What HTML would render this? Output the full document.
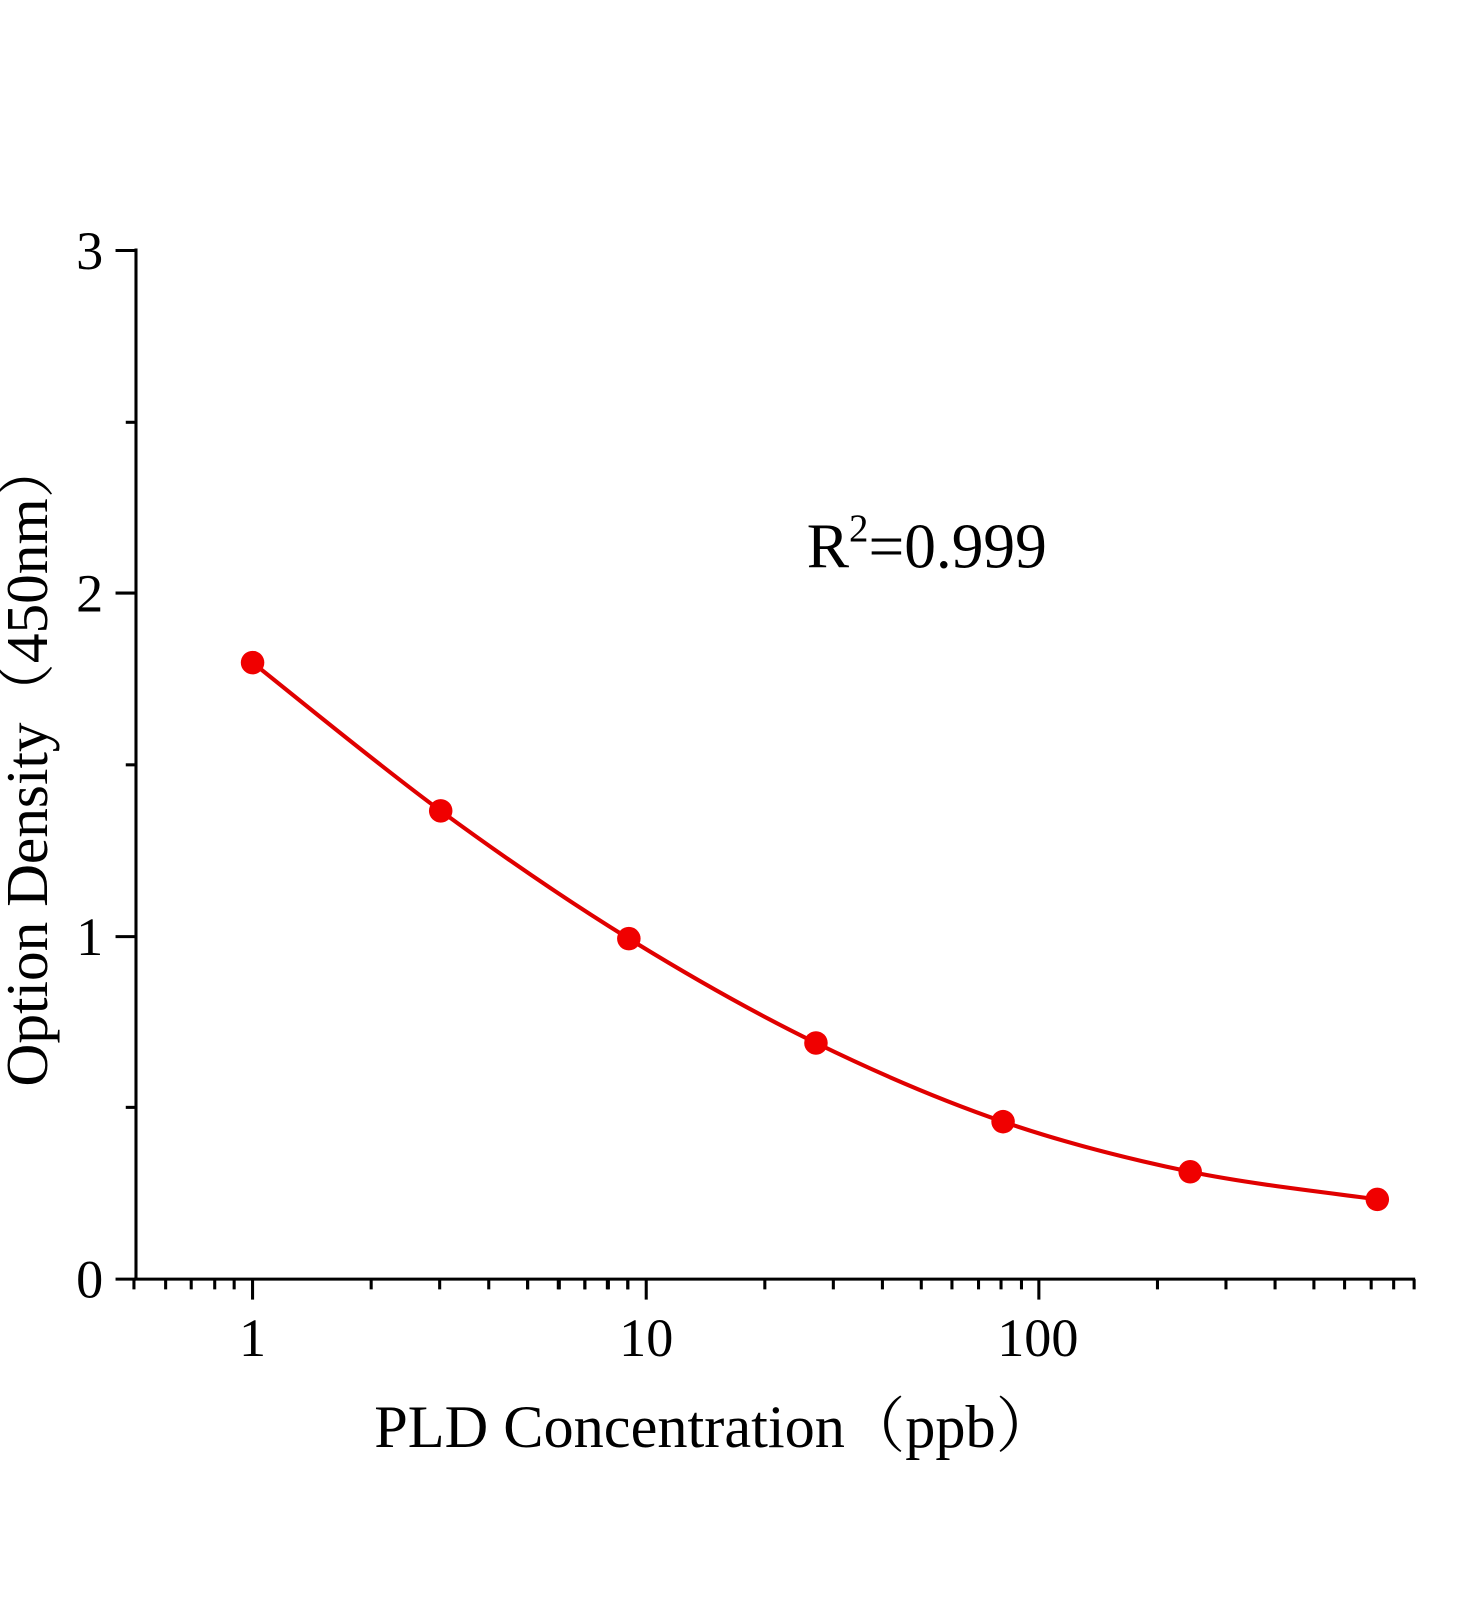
<!DOCTYPE html>
<html><head><meta charset="utf-8"><style>html,body{margin:0;padding:0;background:#fff}</style></head><body>
<svg width="1472" height="1600" xmlns="http://www.w3.org/2000/svg" font-family="Liberation Serif, 'Noto Serif CJK SC', serif">
<rect width="1472" height="1600" fill="#fff"/>
<g transform="scale(1.0225)">
<g stroke="#000" stroke-width="3" fill="none">
<line x1="133" y1="243" x2="133" y2="1252"/>
<line x1="131" y1="1251" x2="1384" y2="1251"/>
<line x1="113" y1="245" x2="133" y2="245"/>
<line x1="113" y1="580" x2="133" y2="580"/>
<line x1="113" y1="916" x2="133" y2="916"/>
<line x1="113" y1="1251" x2="133" y2="1251"/>
<line x1="123" y1="413" x2="133" y2="413"/>
<line x1="123" y1="748" x2="133" y2="748"/>
<line x1="123" y1="1083" x2="133" y2="1083"/>
<line x1="247" y1="1251" x2="247" y2="1271"/>
<line x1="632" y1="1251" x2="632" y2="1271"/>
<line x1="1016" y1="1251" x2="1016" y2="1271"/>
<line x1="1383" y1="1251" x2="1383" y2="1261"/>
</g>
<g stroke="#000" stroke-width="3" id="minor">
<line x1="131" y1="1251" x2="131" y2="1261"/>
<line x1="162" y1="1251" x2="162" y2="1261"/>
<line x1="187" y1="1251" x2="187" y2="1261"/>
<line x1="210" y1="1251" x2="210" y2="1261"/>
<line x1="229" y1="1251" x2="229" y2="1261"/>
<line x1="363" y1="1251" x2="363" y2="1261"/>
<line x1="430" y1="1251" x2="430" y2="1261"/>
<line x1="478" y1="1251" x2="478" y2="1261"/>
<line x1="516" y1="1251" x2="516" y2="1261"/>
<line x1="546" y1="1251" x2="546" y2="1261"/>
<line x1="572" y1="1251" x2="572" y2="1261"/>
<line x1="594" y1="1251" x2="594" y2="1261"/>
<line x1="614" y1="1251" x2="614" y2="1261"/>
</g>
<use href="#minor" transform="translate(385,0)"/>
<g stroke="#000" stroke-width="3">
<line x1="1132" y1="1251" x2="1132" y2="1261"/>
<line x1="1199" y1="1251" x2="1199" y2="1261"/>
<line x1="1247" y1="1251" x2="1247" y2="1261"/>
<line x1="1285" y1="1251" x2="1285" y2="1261"/>
<line x1="1315" y1="1251" x2="1315" y2="1261"/>
<line x1="1341" y1="1251" x2="1341" y2="1261"/>
<line x1="1363" y1="1251" x2="1363" y2="1261"/>
</g>
<g font-size="53" fill="#000">
<text x="101" y="263" text-anchor="end">3</text>
<text x="101" y="598" text-anchor="end">2</text>
<text x="101" y="934" text-anchor="end">1</text>
<text x="101" y="1269" text-anchor="end">0</text>
<text x="247" y="1326" text-anchor="middle">1</text>
<text x="632" y="1326" text-anchor="middle">10</text>
<text x="1015" y="1326" text-anchor="middle">100</text>
</g>
<text x="366" y="1415" font-size="59">PLD Concentration（ppb）</text>
<text transform="translate(46,746) rotate(-90)" font-size="58" text-anchor="middle">Option Density（450nm）</text>
<text x="789" y="555" font-size="62">R<tspan font-size="38" dy="-26">2</tspan><tspan dy="26">=0.999</tspan></text>
<path d="M247,648 C277.7,672.2 369.7,748 431,793 C492.3,838 553.8,880.2 615,918 C676.2,955.8 737,990.2 798,1020 C859,1049.8 920,1076 981,1097 C1042,1118 1103,1133.3 1164,1146 C1225,1158.7 1316.5,1168.5 1347,1173" stroke="#e00000" stroke-width="4" fill="none"/>
<g fill="#f00000">
<circle cx="247" cy="648" r="11.5"/>
<circle cx="431" cy="793" r="11.5"/>
<circle cx="615" cy="918" r="11.5"/>
<circle cx="798" cy="1020" r="11.5"/>
<circle cx="981" cy="1097" r="11.5"/>
<circle cx="1164" cy="1146" r="11.5"/>
<circle cx="1347" cy="1173" r="11.5"/>
</g>
</g>
</svg>
</body></html>
